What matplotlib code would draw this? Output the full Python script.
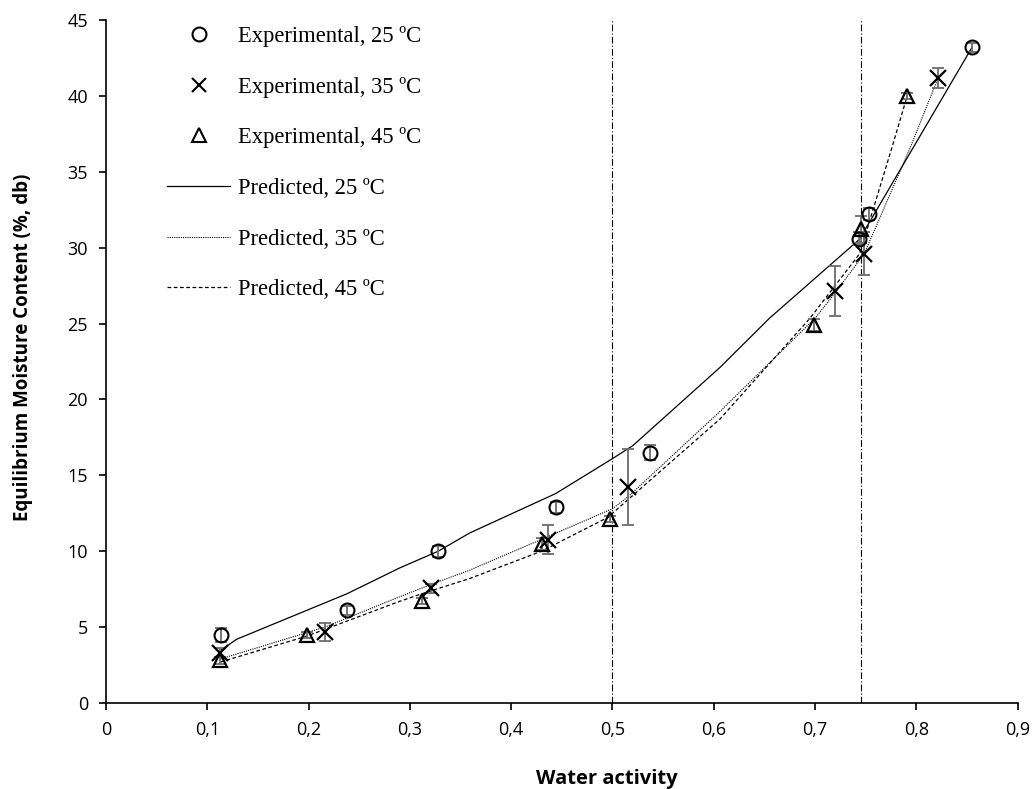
import matplotlib.pyplot as plt
from matplotlib.lines import Line2D

aw_25 = [0.114, 0.238, 0.328, 0.444, 0.537, 0.743, 0.753, 0.855]
emc_25 = [4.5, 6.1, 10.0, 12.9, 16.5, 30.6, 32.2, 43.2]
err_25 = [0.45, 0.3, 0.35, 0.35, 0.5, 0.4, 0.4, 0.3]

aw_35 = [0.113, 0.216, 0.3205, 0.4366, 0.5156, 0.7196, 0.7486, 0.8216]
emc_35 = [3.3, 4.7, 7.55, 10.75, 14.25, 27.15, 29.6, 41.2]
err_35 = [0.3, 0.6, 0.3, 0.95, 2.5, 1.65, 1.4, 0.65]

aw_45 = [0.113, 0.198, 0.312, 0.430, 0.4975, 0.699, 0.745, 0.791]
emc_45 = [2.8, 4.5, 6.7, 10.5, 12.1, 24.9, 31.2, 40.0]
err_45 = [0.2, 0.2, 0.2, 0.4, 0.2, 0.4, 0.9, 0.2]

# curvas predichas (puntos leídos sobre cada línea)
aw_pred_25 = [0.114, 0.129, 0.238, 0.290, 0.328, 0.359, 0.444, 0.5, 0.52, 0.606, 0.655, 0.743, 0.753, 0.855]
emc_pred_25 = [3.5, 4.2, 7.2, 8.9, 10.0, 11.2, 13.8, 16.1, 16.95, 22.1, 25.35, 30.5, 31.6, 43.2]

aw_pred_35 = [0.113, 0.216, 0.29, 0.3205, 0.359, 0.4366, 0.5, 0.5156, 0.606, 0.70, 0.7196, 0.7486, 0.794, 0.8216]
emc_pred_35 = [2.9, 5.0, 7.0, 7.8, 8.75, 10.97, 12.8, 13.6, 19.2, 25.35, 27.0, 29.6, 36.6, 41.2]

aw_pred_45 = [0.113, 0.198, 0.29, 0.312, 0.359, 0.430, 0.4975, 0.5, 0.606, 0.695, 0.744, 0.775, 0.791]
emc_pred_45 = [2.7, 4.4, 6.7, 7.2, 8.2, 10.0, 12.3, 12.5, 18.7, 25.35, 29.6, 36.4, 40.0]

# líneas verticales de referencia
aw_ref = [0.5, 0.745]

x_ticks = [0, 0.1, 0.2, 0.3, 0.4, 0.5, 0.6, 0.7, 0.8, 0.9]
x_tick_labels = ['0', '0,1', '0,2', '0,3', '0,4', '0,5', '0,6', '0,7', '0,8', '0,9']
y_ticks = [0, 5, 10, 15, 20, 25, 30, 35, 40, 45]

fig = plt.figure(figsize=(10.36, 7.89), dpi=100)
ax = fig.add_axes([0.1023, 0.109, 0.880, 0.8657])

for x in aw_ref:
    ax.plot([x, x], [0, 45], color='black', lw=0.8, linestyle=(0, (6, 2, 1, 2)), zorder=1)

# curvas predichas
ax.plot(aw_pred_25, emc_pred_25, color='black', lw=0.9, linestyle='-', zorder=2)
ax.plot(aw_pred_35, emc_pred_35, color='black', lw=0.8, linestyle=(0, (1, 1)), zorder=2)
ax.plot(aw_pred_45, emc_pred_45, color='black', lw=0.9, linestyle=(0, (3, 2)), zorder=2)

# barras de error
for aw, emc, err in [(aw_25, emc_25, err_25), (aw_35, emc_35, err_35), (aw_45, emc_45, err_45)]:
    ax.errorbar(aw, emc, yerr=err, fmt='none', ecolor='#6b6b6b', elinewidth=1.3,
                capsize=4.5, capthick=1.3, zorder=3)

# puntos experimentales
ax.plot(aw_25, emc_25, 'o', ms=10, mfc='none', mec='black', mew=1.5, zorder=4)
ax.plot(aw_35, emc_35, 'x', ms=11, mec='black', mew=1.6, zorder=4)
ax.plot(aw_45, emc_45, '^', ms=10, mfc='none', mec='black', mew=1.6, zorder=4)

ax.set_xlim(0, 0.9)
ax.set_ylim(0, 45)
ax.set_xticks(x_ticks)
ax.set_xticklabels(x_tick_labels)
ax.set_yticks(y_ticks)
ax.tick_params(axis='both', direction='out', length=5, width=1.2, labelsize=13, pad=8)
for lab in ax.get_xticklabels() + ax.get_yticklabels():
    lab.set_family('Open Sans')

ax.spines['top'].set_visible(False)
ax.spines['right'].set_visible(False)
ax.spines['left'].set_linewidth(1.2)
ax.spines['bottom'].set_linewidth(1.2)

ax.set_xlabel('Water activity', fontsize=14.5, fontweight='bold', family='Open Sans')
ax.set_ylabel('Equilibrium Moisture Content (%, db)', fontsize=13.5, fontweight='bold',
              family='Open Sans')
ax.xaxis.set_label_coords(0.549, -0.096)
ax.yaxis.set_label_coords(-0.08, 0.521)

# leyenda
handles = [
    Line2D([], [], marker='o', ls='none', ms=10, mfc='none', mec='black', mew=1.5),
    Line2D([], [], marker='x', ls='none', ms=10, mec='black', mew=1.5),
    Line2D([], [], marker='^', ls='none', ms=10, mfc='none', mec='black', mew=1.5),
    Line2D([], [], color='black', lw=0.9, ls='-'),
    Line2D([], [], color='black', lw=0.8, ls=(0, (1, 1))),
    Line2D([], [], color='black', lw=0.9, ls=(0, (3, 2))),
]
labels = ['Experimental, 25 ºC', 'Experimental, 35 ºC', 'Experimental, 45 ºC',
          'Predicted, 25 ºC', 'Predicted, 35 ºC', 'Predicted, 45 ºC']
leg = ax.legend(handles, labels, loc='upper left', bbox_to_anchor=(167 / 1036, 1 - 26 / 789),
                bbox_transform=fig.transFigure, frameon=False, handlelength=2.79,
                handletextpad=0.35, labelspacing=1.31, borderpad=0, borderaxespad=0,
                prop={'family': 'Liberation Serif', 'size': 16.3})

fig.savefig('out.png', dpi=100)
